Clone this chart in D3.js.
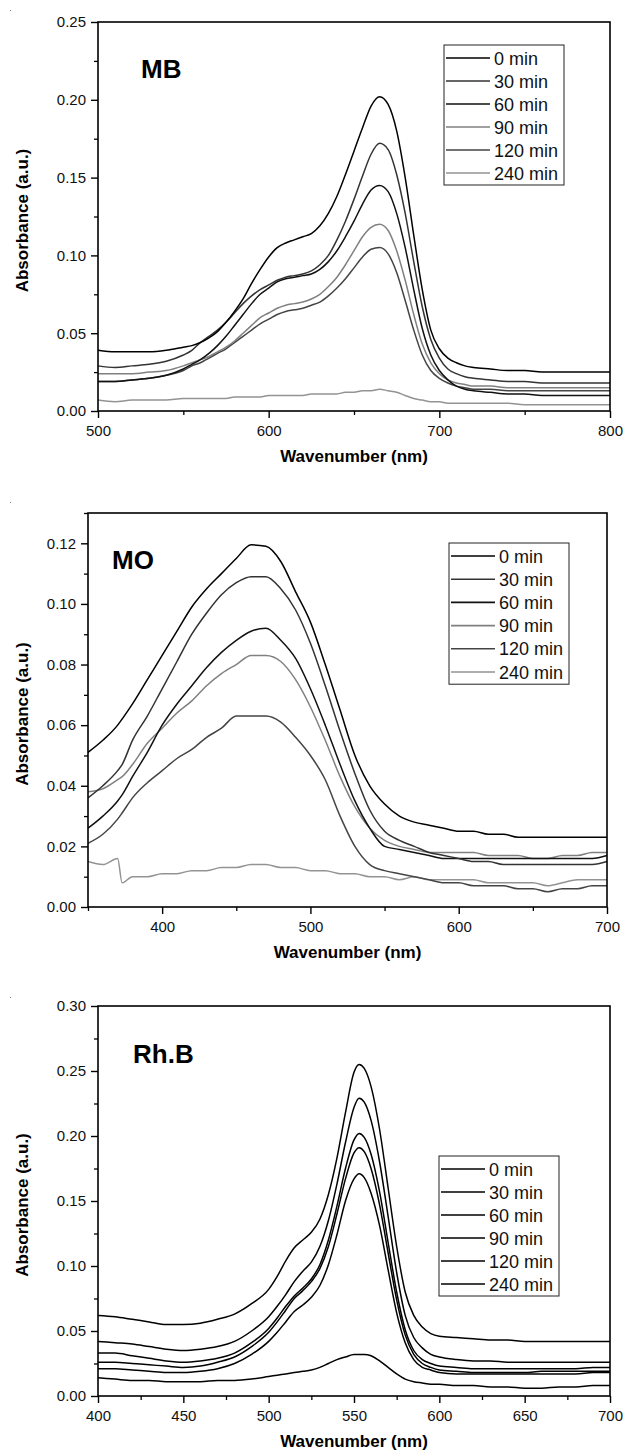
<!DOCTYPE html>
<html><head><meta charset="utf-8">
<script src="https://cdn.jsdelivr.net/npm/d3@7"></script>
<style>
html,body{margin:0;padding:0;background:#fff;}
svg{display:block;}
text{font-family:"Liberation Sans",Arial,Helvetica,sans-serif;}
</style></head>
<body>
<svg id="c" width="623" height="1456"></svg>
<script>
// ---------- DATA ----------
const seriesNames = ["0 min","30 min","60 min","90 min","120 min","240 min"];

// MB panel
const mbWl = [500,510,520,530,540,550,555,560,565,570,575,580,585,590,595,600,605,610,615,620,625,630,635,640,645,650,655,660,665,670,675,680,685,690,695,700,705,710,715,720,730,740,750,760,770,780,790,800];
const mb0   = [.039,.038,.038,.038,.039,.041,.042,.044,.047,.051,.057,.064,.072,.082,.091,.099,.105,.108,.110,.112,.114,.119,.127,.138,.152,.167,.182,.196,.202,.197,.180,.150,.113,.078,.052,.040,.034,.031,.029,.028,.027,.026,.026,.025,.025,.025,.025,.025];
const mb30  = [.029,.028,.029,.030,.032,.036,.039,.044,.048,.052,.057,.063,.069,.074,.078,.081,.084,.086,.087,.088,.090,.094,.100,.110,.122,.136,.151,.165,.172,.168,.152,.127,.096,.067,.046,.034,.027,.024,.022,.021,.020,.019,.019,.018,.018,.018,.018,.018];
const mb60  = [.019,.019,.020,.021,.023,.027,.030,.033,.037,.042,.048,.055,.062,.069,.075,.079,.083,.085,.086,.087,.088,.091,.096,.103,.112,.122,.133,.142,.145,.141,.127,.105,.078,.053,.036,.026,.020,.016,.014,.013,.012,.011,.011,.010,.010,.010,.010,.010];
const mb90  = [.024,.024,.024,.025,.026,.029,.031,.033,.035,.038,.041,.045,.050,.055,.060,.063,.066,.068,.069,.070,.072,.075,.080,.086,.094,.103,.112,.118,.120,.116,.103,.084,.062,.043,.031,.024,.020,.018,.017,.016,.016,.015,.015,.015,.015,.015,.015,.015];
const mb120 = [.019,.019,.020,.021,.023,.026,.029,.031,.034,.037,.040,.044,.048,.052,.056,.059,.062,.064,.065,.066,.068,.070,.074,.079,.085,.092,.099,.104,.105,.101,.089,.071,.052,.036,.026,.021,.018,.016,.015,.014,.014,.013,.013,.013,.013,.013,.013,.013];
const mb240 = [.007,.006,.007,.007,.007,.008,.008,.008,.008,.008,.008,.009,.009,.009,.009,.010,.010,.010,.010,.010,.011,.011,.011,.011,.012,.012,.013,.013,.014,.013,.012,.010,.008,.007,.006,.006,.005,.005,.005,.005,.005,.005,.004,.004,.004,.004,.004,.004];
const mbXTicks = [500,600,700,800];
const mbYTicks = [0,0.05,0.10,0.15,0.20,0.25];

// MO panel
const moWl = [350,360,370,373,380,390,400,410,420,430,440,450,460,470,480,490,500,510,520,530,540,550,560,570,580,590,600,610,620,630,640,650,660,670,680,690,700];
const mo0   = [.051,.055,.060,.062,.067,.075,.083,.091,.099,.105,.110,.115,.1195,.119,.114,.104,.094,.080,.065,.050,.040,.034,.030,.028,.027,.026,.025,.025,.024,.024,.023,.023,.023,.023,.023,.023,.023];
const mo30  = [.036,.040,.045,.047,.055,.063,.072,.081,.090,.097,.103,.107,.109,.109,.105,.098,.087,.073,.058,.044,.032,.025,.022,.020,.018,.017,.016,.015,.015,.014,.014,.014,.014,.014,.014,.014,.015];
const mo60  = [.026,.030,.035,.037,.043,.051,.060,.067,.073,.079,.084,.088,.091,.092,.088,.082,.072,.060,.047,.035,.026,.020,.019,.018,.017,.016,.016,.016,.016,.016,.016,.016,.016,.016,.016,.016,.017];
const mo90  = [.038,.039,.042,.043,.047,.054,.059,.064,.068,.073,.077,.080,.083,.083,.081,.075,.066,.055,.043,.033,.026,.022,.020,.019,.018,.018,.018,.018,.017,.017,.017,.016,.016,.017,.017,.018,.018];
const mo120 = [.021,.024,.029,.031,.036,.041,.045,.049,.052,.056,.059,.063,.063,.063,.061,.056,.050,.042,.030,.020,.014,.012,.011,.010,.009,.008,.008,.007,.007,.007,.006,.006,.005,.006,.006,.007,.007];
const mo240 = [.015,.014,.016,.008,.010,.010,.011,.011,.012,.012,.013,.013,.014,.014,.013,.013,.012,.012,.011,.011,.010,.010,.009,.010,.009,.009,.009,.009,.008,.008,.008,.008,.007,.008,.009,.009,.009];
const moXTicks = [400,500,600,700];
const moYTicks = [0,0.02,0.04,0.06,0.08,0.10,0.12];

// Rh.B panel
const rbWl = [400,410,420,430,440,450,460,470,480,490,500,505,510,515,520,525,530,535,540,545,550,553,556,560,565,570,575,580,585,590,595,600,610,620,630,640,650,660,670,680,690,700];
const rb0   = [.062,.061,.059,.057,.055,.055,.056,.059,.063,.071,.082,.092,.104,.114,.120,.126,.136,.155,.183,.218,.249,.255,.252,.238,.205,.160,.115,.080,.062,.053,.048,.046,.045,.044,.043,.043,.042,.042,.042,.042,.042,.042];
const rb30  = [.042,.041,.040,.038,.036,.035,.036,.038,.042,.050,.061,.069,.078,.088,.096,.103,.115,.135,.163,.195,.222,.229,.226,.212,.180,.138,.095,.062,.045,.037,.032,.030,.028,.027,.027,.026,.026,.026,.026,.026,.026,.026];
const rb60  = [.033,.033,.031,.029,.027,.026,.027,.029,.033,.041,.052,.060,.069,.077,.083,.090,.101,.120,.146,.175,.197,.202,.199,.186,.157,.118,.080,.051,.035,.028,.025,.023,.022,.021,.021,.021,.021,.021,.021,.021,.022,.022];
const rb90  = [.026,.026,.025,.024,.023,.022,.023,.026,.030,.038,.049,.057,.066,.075,.081,.088,.098,.115,.140,.167,.187,.191,.188,.175,.147,.110,.074,.047,.032,.025,.022,.020,.019,.018,.018,.018,.018,.019,.019,.019,.019,.019];
const rb120 = [.021,.021,.020,.019,.018,.018,.019,.021,.025,.032,.042,.049,.057,.065,.070,.076,.085,.101,.124,.150,.167,.171,.168,.156,.131,.097,.064,.041,.028,.022,.020,.018,.017,.017,.017,.017,.017,.017,.017,.017,.018,.018];
const rb240 = [.014,.013,.012,.012,.011,.011,.011,.012,.012,.013,.015,.016,.017,.018,.019,.020,.022,.025,.028,.030,.032,.032,.032,.031,.027,.022,.017,.013,.011,.010,.009,.009,.008,.008,.007,.007,.006,.006,.007,.007,.008,.008];
const rbXTicks = [400,450,500,550,600,650,700];
const rbYTicks = [0,0.05,0.10,0.15,0.20,0.25,0.30];

// ---------- DRAW ----------
const svg = d3.select("#c");
const greyColors = ["#000","#333","#111","#808080","#444","#939393"];
const blackColors = ["#000","#000","#000","#000","#000","#000"];

const panels = [
  {label:"MB", wl:mbWl, series:[mb0,mb30,mb60,mb90,mb120,mb240], xd:[500,800], yd:[0,0.25],
   xt:mbXTicks, yt:mbYTicks, box:{l:98,r:610,t:22,b:411}, colors:greyColors,
   lab:{x:141,y:78}, leg:{x:444,y:45,w:120,row:23}, dot:[10,10]},
  {label:"MO", wl:moWl, series:[mo0,mo30,mo60,mo90,mo120,mo240], xd:[350,700], yd:[0,0.13],
   xt:moXTicks, yt:moYTicks, box:{l:88,r:607,t:513,b:907}, colors:greyColors,
   lab:{x:112,y:569}, leg:{x:449,y:543,w:120,row:23.2}, dot:[10,502]},
  {label:"Rh.B", wl:rbWl, series:[rb0,rb30,rb60,rb90,rb120,rb240], xd:[400,700], yd:[0,0.30],
   xt:rbXTicks, yt:rbYTicks, box:{l:98,r:610,t:1006,b:1396}, colors:blackColors,
   lab:{x:133,y:1063}, leg:{x:439,y:1156,w:120,row:23}, dot:[10,997]}
];

panels.forEach(p => {
  const B = p.box;
  const x = d3.scaleLinear().domain(p.xd).range([B.l,B.r]);
  const y = d3.scaleLinear().domain(p.yd).range([B.b,B.t]);
  const g = svg.append("g");

  g.append("rect").attr("x",p.dot[0]).attr("y",p.dot[1]).attr("width",1).attr("height",1).attr("fill","#888");

  // curves
  const line = d3.line().x(d=>x(d[0])).y(d=>y(d[1])).curve(d3.curveMonotoneX);
  const order = [5,4,3,2,1,0];
  order.forEach(i => {
    const pts = p.wl.map((w,k)=>[w,p.series[i][k]]);
    g.append("path").attr("d",line(pts)).attr("fill","none")
      .attr("stroke",p.colors[i]).attr("stroke-width",1.5).attr("stroke-linejoin","round");
  });

  // minor ticks
  const xStep = p.xt[1]-p.xt[0];
  const xMinor = d3.range(p.xd[0], p.xd[1]+1e-9, xStep/2).filter(v=>!p.xt.some(t=>Math.abs(t-v)<1e-9));
  const yStep = p.yt[1]-p.yt[0];
  const yMinor = d3.range(p.yd[0], p.yd[1]+1e-9, yStep/2).map(v=>+v.toFixed(4)).filter(v=>!p.yt.some(t=>Math.abs(t-v)<1e-9));

  const xMin = g.append("g").attr("transform",`translate(0,${B.b})`)
    .call(d3.axisBottom(x).tickValues(xMinor).tickSize(4).tickFormat(""));
  const yMin = g.append("g").attr("transform",`translate(${B.l},0)`)
    .call(d3.axisLeft(y).tickValues(yMinor).tickSize(4).tickFormat(""));
  [xMin,yMin].forEach(a=>{a.select(".domain").remove(); a.selectAll("line").attr("stroke","#000").attr("stroke-width",1.3);});

  const xA = g.append("g").attr("transform",`translate(0,${B.b})`)
    .call(d3.axisBottom(x).tickValues(p.xt).tickSize(7).tickPadding(7).tickFormat(d3.format("d")));
  const yA = g.append("g").attr("transform",`translate(${B.l},0)`)
    .call(d3.axisLeft(y).tickValues(p.yt).tickSize(7).tickPadding(5).tickFormat(d3.format(".2f")));
  [xA,yA].forEach(a=>{
    a.select(".domain").remove();
    a.selectAll("line").attr("stroke","#000").attr("stroke-width",1.4);
    a.selectAll("text").attr("font-size",15).attr("fill","#111")
      .attr("font-family",'"Liberation Sans",Arial,sans-serif');
  });

  // frame
  g.append("rect").attr("x",B.l).attr("y",B.t).attr("width",B.r-B.l).attr("height",B.b-B.t)
    .attr("fill","none").attr("stroke","#000").attr("stroke-width",1.6);

  // axis titles
  g.append("text").attr("x",(B.l+B.r)/2).attr("y",B.b+51)
    .attr("text-anchor","middle").attr("font-weight","bold").attr("font-size",17)
    .text("Wavenumber (nm)");
  g.append("text").attr("transform",`translate(28,${(B.t+B.b)/2+4}) rotate(-90)`)
    .attr("text-anchor","middle").attr("font-weight","bold").attr("font-size",17)
    .text("Absorbance (a.u.)");

  // panel label
  g.append("text").attr("x",p.lab.x).attr("y",p.lab.y).attr("font-weight","bold")
    .attr("font-size",26).text(p.label);

  // legend
  const L = p.leg;
  g.append("rect").attr("x",L.x).attr("y",L.y).attr("width",L.w).attr("height",L.row*6+2)
    .attr("fill","#fff").attr("stroke","#222").attr("stroke-width",1);
  seriesNames.forEach((n,i)=>{
    const cy = L.y + 13 + i*L.row;
    g.append("line").attr("x1",L.x+2).attr("x2",L.x+46).attr("y1",cy).attr("y2",cy)
      .attr("stroke",p.colors[i]).attr("stroke-width",1.6);
    g.append("text").attr("x",L.x+50).attr("y",cy+6.5).attr("font-size",18).attr("fill","#111").text(n);
  });
});
</script>
</body></html>
